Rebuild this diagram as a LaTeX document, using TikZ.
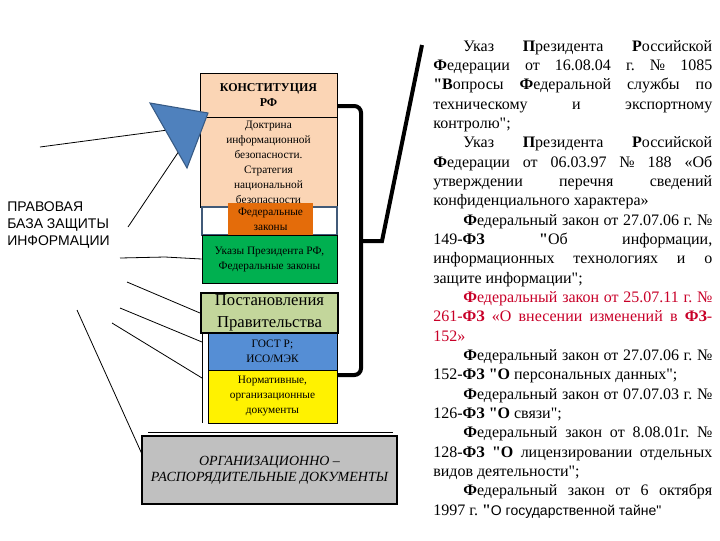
\documentclass[tikz,border=0pt]{standalone}
\usepackage{fontspec}
\setmainfont{Liberation Serif}[Ligatures=TeXOff]
\newfontfamily\arialfont{Liberation Sans}[Ligatures=TeXOff]
\usetikzlibrary{calc}
\frenchspacing
\definecolor{peach}{RGB}{251,213,181}
\definecolor{fzorange}{RGB}{228,108,10}
\definecolor{fzedge}{RGB}{65,90,120}
\definecolor{ukazgreen}{RGB}{0,176,80}
\definecolor{postolive}{RGB}{195,214,155}
\definecolor{gostblue}{RGB}{85,142,213}
\definecolor{orggray}{RGB}{192,192,192}
\definecolor{triblue}{RGB}{79,129,189}
\definecolor{lawred}{RGB}{200,0,40}
\begin{document}
\begin{tikzpicture}[x=0.75pt,y=-0.75pt,
    box/.style={draw=black,line width=0.6pt,inner sep=0pt,align=center},
    wh/.style 2 args={minimum width=#1*0.75pt,minimum height=#2*0.75pt},
    small/.style={font=\fontsize{8.5}{11.25}\selectfont},
    lead/.style={line width=0.6pt}]
  \useasboundingbox (0,0) rectangle (720,540);
  % stack of documents
  \node[box,fill=peach,wh={137}{44},font=\bfseries\fontsize{9}{11.25}\selectfont] (konst) at (268.5,95) {КОНСТИТУЦИЯ\\РФ};
  \node[box,fill=peach,wh={137}{90},small] (doktr) at (268.5,162.5) {Доктрина\\информационной\\безопасности.\\Стратегия\\национальной\\безопасности};
  \node[box,draw=fzedge,fill=white,wh={135}{28},line width=1pt] (fzbg) at (269.5,221) {};
  \node[box,draw=none,fill=fzorange,wh={85}{33},small] (fz) at (270.5,219.5) {Федеральные\\законы};
  \node[box,fill=ukazgreen,wh={135}{48},small] (ukaz) at (269.5,259) {Указы Президента РФ,\\Федеральные законы};
  \node[box,fill=postolive,wh={137}{40},line width=1.5pt,font=\fontsize{12.5}{16.5}\selectfont] (post) at (269.5,313) {Постановления\\Правительства};
  \node[box,fill=gostblue,wh={129}{37},small] (gost) at (272.5,351.5) {ГОСТ Р;\\ИСО/МЭК};
  \node[box,fill=yellow,wh={129}{53},small] (norm) at (272.5,396.5) {Нормативные,\\организационные\\документы};
  \coordinate (vl1) at (202,333);
  \coordinate (vl2) at (202,423);
  \draw[lead] (vl1) -- (vl2);
  \draw[lead] (148,432) -- (393,432);
  \node[box,fill=orggray,wh={255}{68},line width=1pt,font=\itshape\fontsize{10.5}{12}\selectfont] (org) at (269.5,470) {ОРГАНИЗАЦИОННО –\\РАСПОРЯДИТЕЛЬНЫЕ ДОКУМЕНТЫ};

  % label and leads
  \node[anchor=north west,align=left,inner sep=0pt,font=\arialfont\fontsize{10.5}{12.75}\selectfont] (label) at (7,201) {ПРАВОВАЯ\\БАЗА ЗАЩИТЫ\\ИНФОРМАЦИИ};
  \coordinate (ta) at (150,103);
  \coordinate (tb) at (208,113);
  \coordinate (tc) at (187,168);
  \coordinate (f1) at (40,147);
  \coordinate (f2) at (128,227);
  \coordinate (f3) at (120,258);
  \coordinate (f4) at (127,282);
  \coordinate (f5) at (120,308);
  \coordinate (f6) at (112,323);
  \coordinate (f7) at (77,310);
  \draw[lead] (f1) -- ($(ta)!0.42!(tc)$);
  \draw[lead] ($(ta)!0.76!(tc)$) -- (f2);
  \draw[lead] (f3) -- (165,257) -- (ukaz.west);
  \draw[lead] (f4) -- (post.west);
  \draw[lead] (f5) -- ($(vl1)!0.1!(vl2)$);
  \draw[lead] (f6) -- ($(vl1)!0.5!(vl2)$);
  \draw[lead] (f7) -- ($(org.north west)!0.25!(org.south west)$);
  \filldraw[fill=triblue,draw=triblue!70!black,line width=0.8pt] (ta) -- (tb) -- (tc) -- cycle;

  % bracket
  \coordinate (brtop) at (337,106);
  \coordinate (brbot) at (337,375);
  \coordinate (brmid) at (361,241);
  \coordinate (brend) at (422,45);
  \draw[line width=3pt,rounded corners=5] (brtop) -- (361,106) -- (361,375) -- (brbot);
  \draw[line width=3pt] (brmid) -- (382,241) -- (brend);

  % list of laws
  \node[anchor=north west,inner sep=0pt,text width=209.25pt,align=justify,
        font=\fontsize{12}{14.5}\selectfont] (laws) at (433,40) {%
    \hspace*{22.5pt}Указ \textbf{П}резидента \textbf{Р}оссийской \linebreak
    \textbf{Ф}едерации от 16.08.04 г. № 1085 \linebreak
    \textbf{"В}опросы \textbf{Ф}едеральной службы по \linebreak
    техническому и экспортному \linebreak
    контролю";\par
    \hspace*{22.5pt}Указ \textbf{П}резидента \textbf{Р}оссийской \linebreak
    \textbf{Ф}едерации от 06.03.97 № 188 «Об \linebreak
    утверждении перечня сведений \linebreak
    конфиденциального характера»\par
    \hspace*{22.5pt}\textbf{Ф}едеральный закон от 27.07.06 г. № \linebreak
    149-\textbf{ФЗ} \textbf{"}Об информации, \linebreak
    информационных технологиях и о \linebreak
    защите информации";\par
    {\color{lawred}\hspace*{22.5pt}\textbf{Ф}едеральный закон от 25.07.11 г. № \linebreak
    261-\textbf{ФЗ} «О внесении изменений в \textbf{ФЗ}-\linebreak
    152»\par}
    \hspace*{22.5pt}\textbf{Ф}едеральный закон от 27.07.06 г. № \linebreak
    152-\textbf{ФЗ} \textbf{"О} персональных данных";\par
    \hspace*{22.5pt}\textbf{Ф}едеральный закон от 07.07.03 г. № \linebreak
    126-\textbf{ФЗ} \textbf{"О} связи";\par
    \hspace*{22.5pt}\textbf{Ф}едеральный закон от 8.08.01г. № \linebreak
    128-\textbf{ФЗ} \textbf{"О} лицензировании отдельных \linebreak
    видов деятельности";\par
    \hspace*{22.5pt}\textbf{Ф}едеральный закон от 6 октября \linebreak
    1997 г. \textbf{"}{\arialfont\fontsize{10.5}{14.5}\selectfont О государственной тайне"}};
\end{tikzpicture}
\end{document}
